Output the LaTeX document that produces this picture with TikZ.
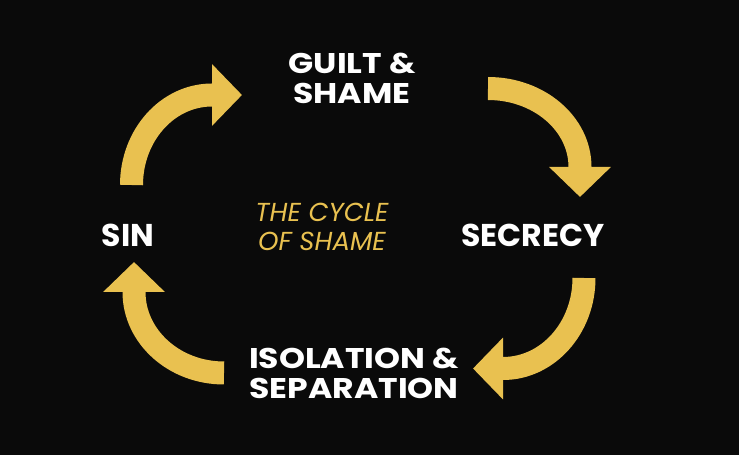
\documentclass[tikz,border=0pt]{standalone}
\usepackage{fontspec}
\setmainfont{Poppins}
\newfontfamily\widefont{Poppins}[FakeStretch=1.16]
\usepackage{tikz}
\usetikzlibrary{arrows.meta,positioning}
\definecolor{gold}{RGB}{233,193,80}
\definecolor{bg}{RGB}{10,10,10}
\tikzset{
  stage/.style={text=white,font=\widefont\bfseries\fontsize{28.5}{30}\selectfont,align=center,inner sep=0pt},
  bigstage/.style={stage,font=\bfseries\fontsize{31.5}{34}\selectfont},
  cyclearrow/.style={draw=gold,line width=23pt,-{Triangle[width=60pt,length=30pt]}}
}
\begin{document}
\begin{tikzpicture}[x=1pt,y=1pt]
    \fill[bg] (0,0) rectangle (739,455);
    \useasboundingbox (0,0) rectangle (739,455);
    % stages of the cycle
    \node[stage] (guilt) at (352,377) {GUILT \&\\SHAME};
    \node[bigstage] (secrecy) at (533,220) {SECRECY};
    \node[stage] (isolation) at (354,82) {ISOLATION \&\\SEPARATION};
    \node[bigstage] (sin) at (128,220) {SIN};
    \node[text=gold,font=\itshape\fontsize{26}{29}\selectfont,align=center,inner sep=0pt] (cycle) at (322,228) {THE CYCLE\\OF SHAME};
    % arrow starts
    \coordinate (sinUp) at (131.5,270);
    \coordinate (guiltOut) at (488,366.5);
    \coordinate (secrecyOut) at (584,177);
    \coordinate (isolationOut) at (224,82);
    \draw[cyclearrow] (sinUp) arc[start angle=180,end angle=90,x radius=80.5,y radius=90] -- ++(30,0);
    \draw[cyclearrow] (guiltOut) arc[start angle=90,end angle=0,x radius=92,y radius=78.5] -- ++(0,-30);
    \draw[cyclearrow] (secrecyOut) arc[start angle=0,end angle=-90,x radius=81,y radius=90.5] -- ++(-30,0);
    \draw[cyclearrow] (isolationOut) arc[start angle=-90,end angle=-180,x radius=90,y radius=81] -- ++(0,30);
\end{tikzpicture}
\end{document}
